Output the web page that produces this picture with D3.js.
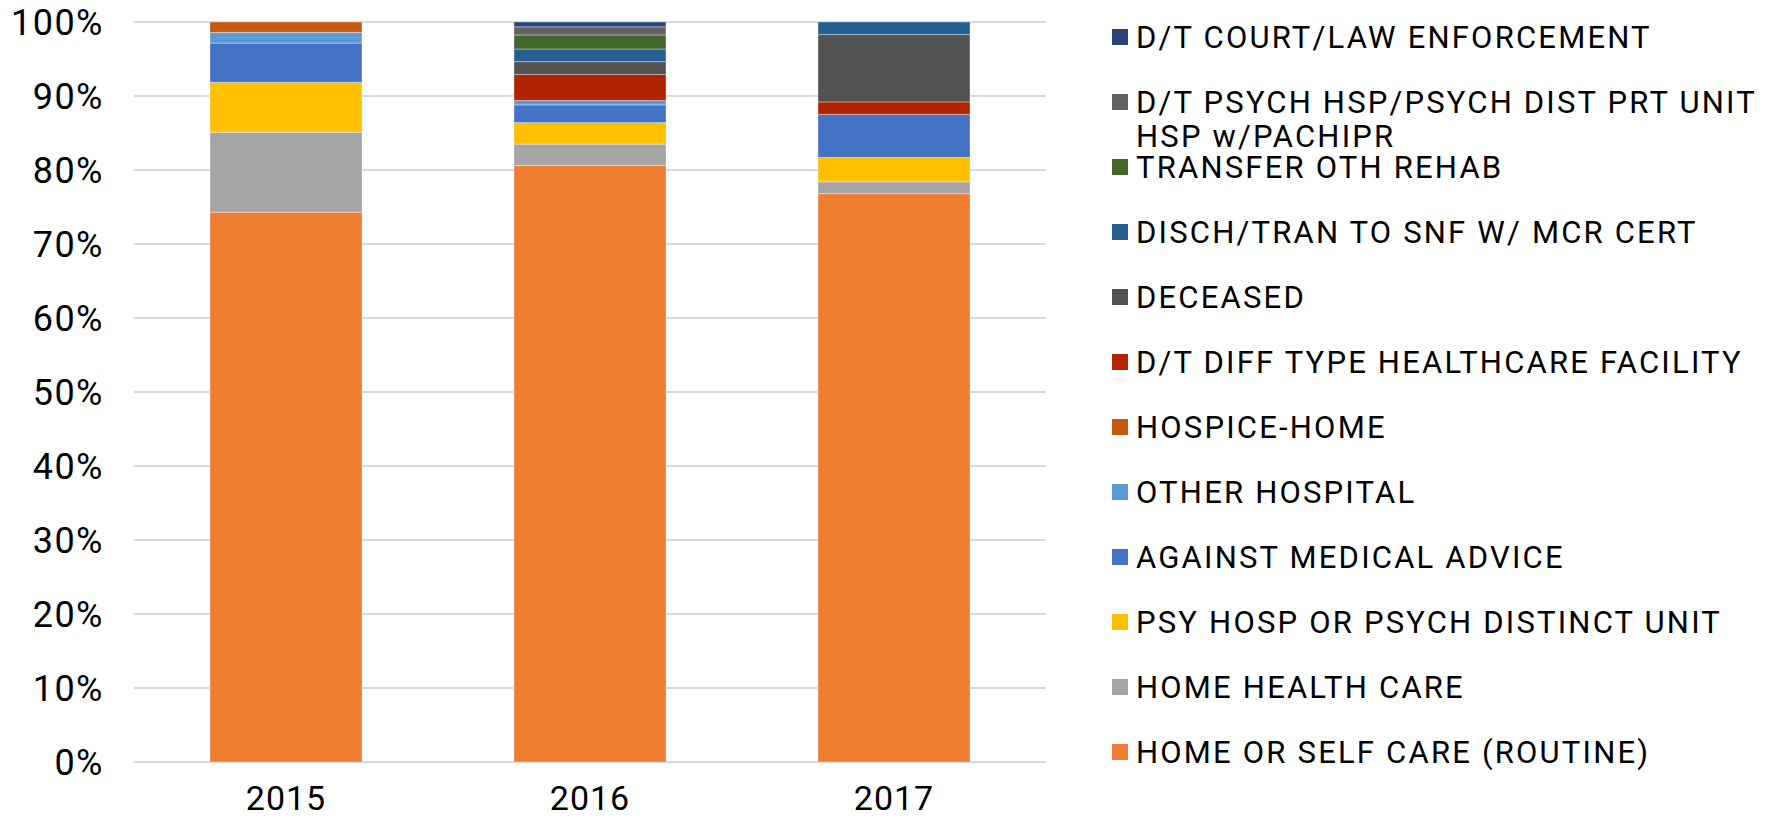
<!DOCTYPE html>
<html>
<head>
<meta charset="utf-8">
<script src="https://cdn.jsdelivr.net/npm/d3@7"></script>
<style>
    body { margin: 0; background: #fff; }
    text { font-family: Roboto, "Noto Sans", sans-serif; fill: #000; }
</style>
</head>
<body>
<div id="chart"></div>
<script>
// years on the x axis
let years = ["2015", "2016", "2017"];

// stack order, bottom to top
let keys = [
    "HOME OR SELF CARE (ROUTINE)",
    "HOME HEALTH CARE",
    "PSY HOSP OR PSYCH DISTINCT UNIT",
    "AGAINST MEDICAL ADVICE",
    "OTHER HOSPITAL",
    "HOSPICE-HOME",
    "D/T DIFF TYPE HEALTHCARE FACILITY",
    "DECEASED",
    "DISCH/TRAN TO SNF W/ MCR CERT",
    "TRANSFER OTH REHAB",
    "D/T PSYCH HSP/PSYCH DIST PRT UNIT HSP w/PACHIPR",
    "D/T COURT/LAW ENFORCEMENT"
];

let colors = ["#ED7D31", "#A5A5A5", "#FFC000", "#4472C4", "#5B9BD5", "#C55A11",
    "#B22300", "#525252", "#255E91", "#43682B", "#636363", "#264478"];

// percent share per year, same order as keys
let values2015 = [74.3, 10.8, 6.75, 5.3, 1.45, 1.4, 0, 0, 0, 0, 0, 0];
let values2016 = [80.6, 2.9, 2.9, 2.4, 0.6, 0, 3.5, 1.75, 1.7, 1.9, 1.1, 0.65];
let values2017 = [76.8, 1.6, 3.3, 5.8, 0, 0, 1.7, 9.1, 1.7, 0, 0, 0];

let yTicks = [0, 10, 20, 30, 40, 50, 60, 70, 80, 90, 100];

let width = 1770;
let height = 819;

let rows = [values2015, values2016, values2017].map((vals, i) => {
    let row = { year: years[i] };
    keys.forEach((k, j) => row[k] = vals[j]);
    return row;
});

let series = d3.stack().keys(keys)(rows);

let svg = d3.select("#chart")
    .append("svg")
    .attr("width", width)
    .attr("height", height);

let x = d3.scaleBand()
    .domain(years)
    .range([134, 1046])
    .paddingInner(0.5)
    .paddingOuter(0.25);

let y = d3.scaleLinear()
    .domain([0, 100])
    .range([762, 22]);

// gridlines
svg.append("g")
    .selectAll("line")
    .data(yTicks)
    .join("line")
    .attr("x1", 134)
    .attr("x2", 1046)
    .attr("y1", d => y(d))
    .attr("y2", d => y(d))
    .attr("stroke", "#D9D9D9")
    .attr("stroke-width", 2);

// y labels
svg.append("g")
    .selectAll("text")
    .data(yTicks)
    .join("text")
    .attr("x", 104)
    .attr("y", d => y(d))
    .attr("dy", "0.36em")
    .attr("text-anchor", "end")
    .style("font-size", "36px")
    .style("letter-spacing", "1.5px")
    .text(d => d + "%");

// x labels
svg.append("g")
    .selectAll("text")
    .data(years)
    .join("text")
    .attr("x", d => x(d) + x.bandwidth() / 2)
    .attr("y", 810)
    .attr("text-anchor", "middle")
    .style("font-size", "34px")
    .style("letter-spacing", "1px")
    .text(d => d);

// stacked bars
svg.append("g")
    .selectAll("g")
    .data(series)
    .join("g")
    .attr("fill", (d, i) => colors[i])
    .selectAll("rect")
    .data(d => d.filter(p => p[1] - p[0] > 0))
    .join("rect")
    .attr("x", d => x(d.data.year))
    .attr("width", x.bandwidth())
    .attr("y", d => y(d[1]))
    .attr("height", d => y(d[0]) - y(d[1]))
    .attr("stroke", "#fff")
    .attr("stroke-opacity", 0.35)
    .attr("stroke-width", 1);

// legend, top item is the last key
let legendKeys = keys.slice().reverse();
let legendColors = colors.slice().reverse();

let legend = svg.append("g")
    .selectAll("g")
    .data(legendKeys)
    .join("g")
    .attr("transform", (d, i) => "translate(1112," + (37 + i * 65) + ")");

legend.append("rect")
    .attr("x", 0)
    .attr("y", -8)
    .attr("width", 16)
    .attr("height", 16)
    .attr("fill", (d, i) => legendColors[i]);

legend.append("text")
    .attr("x", 24)
    .attr("dy", "0.36em")
    .style("font-size", "31px")
    .style("letter-spacing", "2.2px")
    .each(function (d) {
        let t = d3.select(this);
        if (d.indexOf("UNIT HSP") > -1) {
            t.append("tspan").attr("x", 24).text("D/T PSYCH HSP/PSYCH DIST PRT UNIT");
            t.append("tspan").attr("x", 24).attr("dy", 34).text("HSP w/PACHIPR");
        } else {
            t.text(d);
        }
    });
</script>
</body>
</html>
